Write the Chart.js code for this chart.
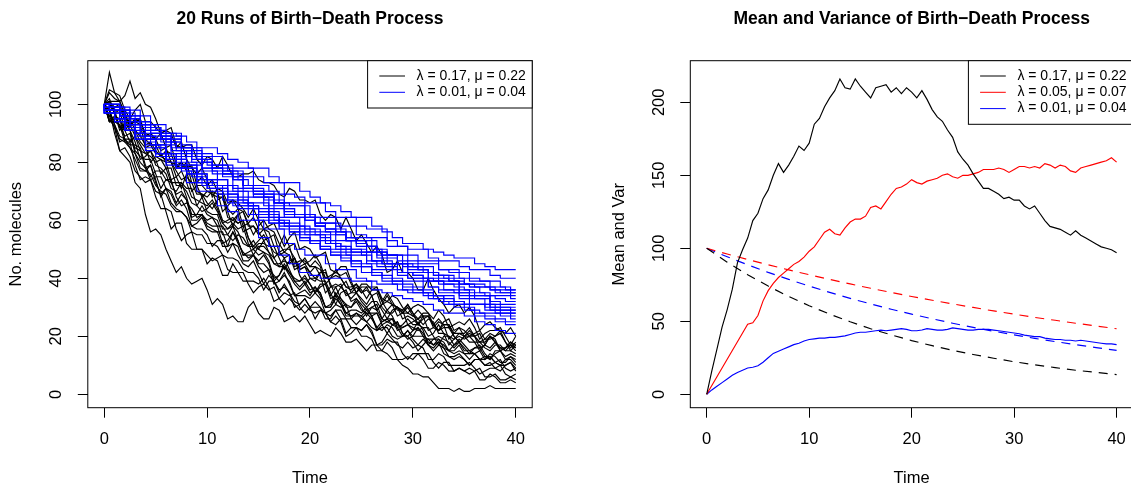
<!DOCTYPE html>
<html>
<head>
<meta charset="utf-8">
<script src="https://cdn.jsdelivr.net/npm/chart.js@4.4.1/dist/chart.umd.min.js"></script>
<style>
  html, body { margin: 0; padding: 0; background: #fff; overflow: hidden; }
  .panel { position: absolute; top: 0; width: 566px; height: 486px; }
  #left { left: 0; }
  #right { left: 600px; }
</style>
</head>
<body>
<div class="panel" id="left"><canvas id="runsChart" width="566" height="486"></canvas></div>
<div class="panel" id="right"><canvas id="momentsChart" width="566" height="486"></canvas></div>
<script>
// time grids: whole units and half units
const runTimes = [0,1,2,3,4,5,6,7,8,9,10,11,12,13,14,15,16,17,18,19,20,21,22,23,24,25,26,27,28,29,30,31,32,33,34,35,36,37,38,39,40];
const halfTimes = [0,0.5,1,1.5,2,2.5,3,3.5,4,4.5,5,5.5,6,6.5,7,7.5,8,8.5,9,9.5,10,10.5,11,11.5,12,12.5,13,13.5,14,14.5,15,15.5,16,16.5,17,17.5,18,18.5,19,19.5,20,20.5,21,21.5,22,22.5,23,23.5,24,24.5,25,25.5,26,26.5,27,27.5,28,28.5,29,29.5,30,30.5,31,31.5,32,32.5,33,33.5,34,34.5,35,35.5,36,36.5,37,37.5,38,38.5,39,39.5,40];

// lambda = 0.17, mu = 0.22 (half-unit samples)
const blackRuns = [
  [100,102,97,92,92,94,94,93,85,80,82,81,80,80,75,71,76,76,70,69,66,64,67,68,61,60,62,56,57,58,55,57,53,47,49,50,50,47,43,44,40,39,42,42,38,34,37,39,35,35,33,31,34,35,30,28,28,30,29,24,25,26,24,26,25,21,21,20,19,21,20,18,18,18,16,15,17,17,15,15,14],
  [100,94,94,93,89,90,83,80,78,79,74,68,71,70,66,69,67,60,60,62,58,57,56,51,51,56,53,48,48,48,46,48,45,39,41,45,42,39,37,39,36,37,35,30,31,35,32,28,29,29,28,30,27,23,25,26,24,25,21,19,20,23,21,18,17,19,18,15,15,17,14,14,14,12,12,13,11,10,10,11,9],
  [100,101,101,101,96,92,95,95,89,90,88,84,85,86,79,78,80,73,73,75,72,74,70,63,65,67,66,64,61,64,60,57,58,59,55,51,54,56,50,51,50,47,48,49,43,42,44,44,39,35,38,38,36,37,32,29,31,30,28,30,27,26,27,27,24,22,24,24,21,21,21,23,20,18,19,21,20,22,18,15,17],
  [100,96,92,88,87,87,79,74,75,74,70,69,63,57,59,59,52,50,50,50,45,47,46,41,41,45,42,39,39,39,38,40,37,32,33,35,34,35,30,28,30,32,30,28,27,29,29,26,26,28,26,25,23,22,23,23,20,19,20,20,18,15,17,19,17,18,14,13,13,14,12,10,12,12,10,11,9,8,10,11,8],
  [100,95,92,84,82,80,73,71,62,56,57,55,50,46,42,44,40,38,39,40,36,31,33,31,26,27,25,25,30,32,28,26,26,30,29,25,26,27,25,27,24,21,22,21,20,23,21,18,18,19,17,15,17,17,15,14,12,12,10,9,7,7,6,6,4,2,2,2,1,2,1,1,2,2,2,3,2,2,2,2,2],
  [100,100,98,92,91,93,89,84,83,82,80,81,78,73,73,73,71,71,65,63,64,66,63,59,57,58,56,52,51,53,50,49,48,45,44,44,42,40,39,40,38,35,38,38,34,37,33,31,30,33,30,27,30,29,26,29,27,23,24,26,24,24,23,20,21,24,21,17,19,20,19,20,18,15,17,20,18,16,16,18,16],
  [100,105,104,103,98,95,98,100,94,94,92,90,91,92,86,85,86,86,81,79,82,81,78,82,79,75,75,76,76,77,74,73,73,72,69,68,71,70,67,67,66,67,62,60,62,61,57,61,57,53,55,52,49,51,48,42,43,46,42,42,40,36,36,40,36,33,31,28,30,31,28,30,27,22,24,25,23,22,21,23,20],
  [100,94,95,95,91,91,84,82,81,81,76,71,74,73,69,70,67,61,62,65,62,61,60,55,55,58,53,48,49,50,48,49,46,40,41,44,41,38,36,38,35,36,35,30,30,34,31,27,27,27,27,29,27,22,24,25,24,25,21,20,22,23,20,19,19,19,16,15,17,18,15,15,14,12,13,13,11,10,12,12,10],
  [100,101,99,100,94,91,91,89,86,87,84,82,81,80,77,74,75,73,69,69,68,70,65,60,59,60,59,60,54,50,52,52,51,51,47,43,46,47,43,44,42,40,42,43,37,37,38,34,35,37,35,37,34,29,31,32,31,30,28,31,28,26,28,28,24,22,25,26,22,23,22,20,21,22,19,19,20,21,18,16,18],
  [100,98,93,89,88,85,81,77,77,76,72,70,69,65,63,63,61,58,57,57,55,51,53,53,49,52,48,45,44,46,42,38,41,39,36,37,35,30,31,33,30,30,30,26,26,29,26,21,23,23,22,24,22,17,18,21,19,17,16,18,16,17,16,12,12,14,13,10,10,10,10,11,9,7,8,9,9,10,7,6,7],
  [100,104,102,101,97,93,94,95,88,86,86,82,84,83,78,80,77,70,72,72,70,70,69,69,64,62,64,63,59,55,58,60,57,56,52,49,51,52,47,45,46,48,45,40,41,42,41,42,38,35,37,37,37,37,33,32,34,33,30,28,30,31,30,28,26,29,27,23,24,25,24,26,23,19,21,22,22,23,20,17,20],
  [100,94,96,95,91,91,87,81,82,84,79,78,76,71,70,73,68,62,62,62,60,61,58,52,53,56,52,49,47,48,45,45,43,38,39,42,38,34,34,34,33,35,33,28,29,31,30,31,26,24,26,28,26,23,22,24,23,20,20,22,20,20,20,17,16,18,17,15,14,15,14,12,14,15,12,14,13,11,11,13,11],
  [100,98,90,84,85,82,77,75,73,74,68,64,64,63,57,53,55,56,50,50,48,46,47,48,43,42,42,42,38,35,37,38,36,37,33,31,33,31,29,31,29,28,29,28,25,24,26,26,23,23,22,24,21,17,17,19,18,18,14,12,14,14,14,14,11,9,11,11,8,9,8,7,8,9,6,6,7,5,5,6,5],
  [100,101,97,91,93,95,91,87,85,86,83,83,80,74,75,77,73,68,67,66,65,67,64,59,60,61,59,60,54,51,53,55,52,49,48,49,48,44,45,47,44,44,43,40,40,41,40,37,37,38,36,33,36,36,32,35,32,29,29,31,28,24,27,27,24,26,24,19,21,23,20,20,20,16,17,20,18,15,16,17,16],
  [100,96,95,95,88,86,86,85,79,75,77,77,74,74,68,65,66,64,61,62,59,58,58,58,55,53,55,54,51,51,50,53,49,45,45,46,45,47,41,38,40,40,39,39,35,31,35,36,32,33,31,29,30,31,26,25,26,22,23,24,22,25,22,17,19,20,19,18,16,18,16,14,16,16,13,12,14,15,12,13,12],
  [100,98,93,87,88,88,85,84,78,74,75,75,71,66,64,63,61,56,55,55,52,52,51,48,47,47,46,43,42,42,40,36,39,39,35,38,35,32,31,33,30,26,29,28,25,27,25,20,21,23,20,20,19,15,15,18,16,12,12,13,12,14,12,9,9,11,10,8,8,9,8,9,8,5,5,7,6,4,4,5,4],
  [100,98,99,99,96,93,95,94,90,89,88,90,85,80,79,80,78,79,72,68,70,69,68,68,63,58,62,63,58,58,56,53,54,55,49,47,48,43,44,45,42,44,41,35,37,38,37,35,33,35,32,30,32,32,29,26,29,30,26,27,26,24,26,27,23,22,23,23,20,18,20,21,20,21,17,16,18,16,15,17,15],
  [100,111,104,101,103,108,102,104,100,99,95,90,91,90,85,87,81,78,76,78,74,68,71,70,66,67,64,58,59,61,57,57,56,51,51,55,51,45,46,46,44,46,44,38,40,43,40,37,36,38,35,36,34,29,31,34,31,27,28,28,27,29,27,22,23,25,24,24,20,18,20,22,20,18,18,20,19,15,16,18,17],
  [100,100,97,98,91,87,89,86,83,84,81,76,78,78,72,72,70,66,65,68,63,62,62,57,57,59,57,58,52,48,51,51,49,47,44,47,43,39,39,41,38,35,37,38,33,34,33,30,30,32,29,28,28,28,24,21,24,23,20,22,19,17,19,17,15,17,16,13,12,13,12,10,12,12,10,10,11,12,9,8,9],
  [100,94,94,93,87,85,83,78,77,79,73,69,71,69,65,67,64,58,59,61,57,56,56,56,51,52,51,46,46,48,44,42,43,41,39,41,39,34,35,36,34,37,34,30,30,33,31,28,27,28,27,25,27,28,25,26,26,24,23,24,23,22,23,23,20,17,20,20,17,19,17,15,16,17,14,12,15,15,13,14,13]
];

// lambda = 0.01, mu = 0.04 (whole-unit samples)
const blueRuns = [
  [100,99,97,97,94,93,93,90,89,87,85,85,83,81,80,78,78,75,73,73,70,68,66,65,63,61,61,58,56,54,52,52,50,49,48,47,47,45,44,43,43],
  [100,98,96,96,93,92,89,89,86,84,82,82,79,78,78,75,73,73,69,68,66,66,63,61,61,58,57,57,53,51,50,50,47,46,46,44,43,43,41,40,40],
  [100,97,95,95,90,88,88,83,81,80,76,74,74,70,68,66,66,62,60,59,57,57,54,53,53,50,49,49,46,45,44,44,42,41,41,39,38,38,37,37,36],
  [100,99,94,92,92,86,83,83,77,75,72,72,67,65,65,60,57,57,52,50,48,48,45,43,43,40,39,38,38,36,35,35,33,32,31,31,29,28,28,27,26],
  [100,98,95,91,91,84,82,79,79,73,70,70,65,63,60,60,54,51,48,45,42,41,40,40,40,39,39,36,35,34,33,32,31,29,28,28,27,25,24,22,21],
  [100,100,97,95,92,90,90,87,84,82,80,78,77,74,72,70,69,66,64,62,60,59,57,56,53,52,51,49,47,45,44,43,42,40,39,38,37,35,34,34,33],
  [100,98,97,93,93,89,86,86,84,79,77,77,74,72,70,68,68,63,61,61,58,56,56,52,51,49,49,46,45,45,42,41,39,39,36,35,35,33,31,30,30],
  [100,100,96,92,89,89,87,82,79,79,74,72,72,70,66,64,64,60,58,58,55,55,52,50,48,48,45,44,44,41,40,40,37,36,36,34,33,33,30,29,29],
  [100,99,99,95,93,93,91,87,85,85,81,79,79,77,74,72,72,70,66,65,65,61,59,59,56,54,54,50,48,48,45,44,44,41,40,40,38,37,37,35,35],
  [100,98,98,98,90,88,88,84,82,82,78,76,76,76,71,69,67,67,63,62,62,58,56,56,53,51,51,47,45,45,42,42,39,38,38,35,34,34,32,31,31],
  [100,97,97,91,88,88,85,80,78,78,73,71,71,67,65,65,61,59,59,55,53,53,50,49,49,46,45,43,43,40,39,39,36,34,34,32,31,31,29,28,28],
  [100,100,96,94,94,90,88,88,83,81,81,77,75,75,70,68,68,64,61,61,57,55,55,51,50,50,46,45,45,42,40,40,37,35,35,33,31,31,29,28,27],
  [100,97,95,92,90,87,85,82,80,77,75,73,71,69,67,65,63,61,59,58,56,55,53,52,50,49,48,46,45,43,42,41,40,39,38,37,36,35,34,33,32],
  [100,100,98,93,91,91,89,85,85,80,78,78,76,71,71,69,65,65,62,61,61,58,57,57,54,53,53,50,48,48,46,45,45,43,42,42,40,39,39,37,36],
  [100,97,94,91,89,86,83,81,78,76,73,71,69,66,64,62,60,59,57,56,54,52,50,48,47,45,44,42,41,39,38,37,35,34,32,31,30,28,27,26,25],
  [100,99,99,96,96,92,90,90,85,85,80,78,78,75,75,71,69,69,66,66,62,61,61,58,58,55,54,54,51,51,48,46,46,43,43,40,39,39,36,36,34],
  [100,98,95,93,90,88,86,83,81,78,76,74,72,69,67,65,63,61,59,57,55,53,51,50,48,46,44,42,40,39,37,36,35,34,33,32,31,31,30,29,29],
  [100,98,98,94,94,90,88,88,85,83,83,79,77,77,72,70,70,66,65,65,61,59,59,55,53,53,49,48,48,45,43,43,40,39,39,36,34,34,31,30,28],
  [100,97,94,91,88,85,83,81,78,76,74,72,70,68,66,64,62,60,58,56,54,52,50,48,46,44,42,41,39,38,36,35,34,33,31,30,29,27,26,25,24],
  [100,98,96,95,93,91,89,87,84,82,80,78,76,74,72,70,68,66,64,62,60,58,57,55,54,52,51,49,48,46,45,43,42,41,39,38,37,37,36,35,35]
];

// mean curves, every 2 time units
const meanTimes = [0,2,4,6,8,10,12,14,16,18,20,22,24,26,28,30,32,34,36,38,40];
const meanFast = [100,90.5,81.9,74.1,67.0,60.7,54.9,49.7,44.9,40.7,36.8,33.3,30.1,27.3,24.7,22.3,20.2,18.3,16.5,15.0,13.5];
const meanMid = [100,96.1,92.3,88.7,85.2,81.9,78.7,75.6,72.6,69.8,67.0,64.4,61.9,59.5,57.1,54.9,52.7,50.7,48.7,46.8,44.9];
const meanSlow = [100,94.2,88.7,83.5,78.7,74.1,69.8,65.7,61.9,58.3,54.9,51.7,48.7,45.8,43.2,40.7,38.3,36.1,34.0,32.0,30.1];

// sample variances on the half-unit grid
const varFast = [0,16,31,46,58,72,90,99,107,119,124,134,140,150,158,152,157,163,170,167,172,185,189,197,203,208,216,210,209,216,211,207,203,210,211,212,207,210,206,210,207,203,208,202,195,190,187,181,176,166,161,157,151,146,141,141,139,137,134,135,133,133,129,127,129,124,119,115,114,113,111,109,112,109,107,105,103,101,100,99,97];
const varMid = [0,6,12,18,24,30,36,42,48,49,54,64,71,76,80,83,86,89,91,94,98,101,106,111,113,110,109,114,118,120,120,122,128,129,127,132,137,141,142,144,147,145,144,146,147,148,150,151,149,148,150,150,151,152,154,154,154,155,154,152,154,156,156,155,156,155,158,157,155,157,156,153,152,155,156,157,158,159,160,162,159];
const varSlow = [0,3,5.5,8,10.5,13,15,16.5,18,18.5,19.5,22,25,28,29.5,31,32.5,34,35,36.5,37.5,38,38.5,38.5,39,39,39.5,40,41,42,42.5,42.5,43,43.5,44,43.5,44,44.5,45,44.5,43.5,43.5,44,45,44.5,44,44,44.5,45.5,45,44.5,44,44,44.5,44.5,44.5,44,43.5,43,42.5,42,41.5,40.5,40,39.5,39.5,38.5,38,37.5,37.5,37,37,36.5,37,36.5,36,35.5,35,34.5,34.5,34];

const xTicks = [0,10,20,30,40];
const runTicks = [0,20,40,60,80,100];
const momentTicks = [0,50,100,150,200];

const labelFast = "λ = 0.17, μ = 0.22";
const labelMid = "λ = 0.05, μ = 0.07";
const labelSlow = "λ = 0.01, μ = 0.04";

const colFast = "#000000";
const colMid = "#ff0000";
const colSlow = "#0000ff";
const FONT = '"Liberation Sans", Arial, Helvetica, sans-serif';

function lineSet(times, values, color, extra) {
  return Object.assign({
    data: times.map((t, i) => ({ x: t, y: values[i] })),
    borderColor: color,
    borderWidth: 1.15,
    pointRadius: 0,
    fill: false,
    tension: 0
  }, extra || {});
}

function axisX() {
  return {
    type: "linear", min: -1.6, max: 41.6,
    afterBuildTicks: s => { s.ticks = xTicks.map(v => ({ value: v })); },
    afterFit: s => { s.height = 78.3; },
    ticks: { display: false },
    grid: { drawOnChartArea: false, tickLength: 10, color: "#000", lineWidth: 1 },
    border: { display: false }
  };
}

function axisY(min, max, ticks, width) {
  return {
    type: "linear", min: min, max: max,
    afterBuildTicks: s => { s.ticks = ticks.map(v => ({ value: v })); },
    afterFit: s => { s.width = width; },
    ticks: { display: false },
    grid: { drawOnChartArea: false, tickLength: 10, color: "#000", lineWidth: 1 },
    border: { display: false }
  };
}

// box, tick labels, titles and legend in the style of base R graphics
function framePlugin(cfg) {
  return {
    id: "rFrame",
    afterDraw(chart) {
      const ctx = chart.ctx, a = chart.chartArea;
      const xs = chart.scales.x, ys = chart.scales.y;
      const midX = (a.left + a.right) / 2;
      ctx.save();
      ctx.strokeStyle = "#000";
      ctx.lineWidth = 1;
      ctx.strokeRect(a.left, a.top, a.right - a.left, a.bottom - a.top);

      ctx.fillStyle = "#000";
      ctx.textAlign = "center";
      ctx.textBaseline = "middle";
      ctx.font = "16.5px " + FONT;
      xTicks.forEach(v => ctx.fillText(String(v), xs.getPixelForValue(v), 439));
      cfg.yTicks.forEach(v => {
        ctx.save();
        ctx.translate(a.left - 31, ys.getPixelForValue(v));
        ctx.rotate(-Math.PI / 2);
        ctx.fillText(String(v), 0, 0);
        ctx.restore();
      });

      ctx.fillText("Time", midX, 478);
      ctx.save();
      ctx.translate(a.left - 71, (a.top + a.bottom) / 2);
      ctx.rotate(-Math.PI / 2);
      ctx.fillText(cfg.yTitle, 0, 0);
      ctx.restore();

      ctx.font = "bold 17.5px " + FONT;
      ctx.fillText(cfg.title, midX, 19);

      // legend, top right corner of the plot
      const rows = cfg.legend.length;
      const lw = 164.6, lh = rows * 16.3 + 14.7;
      const lx = a.right - lw, ly = a.top;
      ctx.fillStyle = "#fff";
      ctx.fillRect(lx, ly, lw, lh);
      ctx.strokeRect(lx, ly, lw, lh);
      ctx.font = "14px " + FONT;
      ctx.textAlign = "left";
      cfg.legend.forEach((item, i) => {
        const y = ly + 15.3 + i * 16.3;
        ctx.strokeStyle = item.color;
        ctx.beginPath();
        ctx.moveTo(lx + 11.7, y);
        ctx.lineTo(lx + 37.4, y);
        ctx.stroke();
        ctx.fillStyle = "#000";
        ctx.fillText(item.text, lx + 49, y);
      });
      ctx.restore();
    }
  };
}

function makeChart(id, datasets, yAxis, padRight, plugin) {
  return new Chart(document.getElementById(id), {
    type: "line",
    data: { datasets },
    options: {
      responsive: false,
      animation: false,
      events: [],
      layout: { padding: { left: 0, right: padRight, top: 60.7, bottom: 0 } },
      plugins: { legend: { display: false }, tooltip: { enabled: false } },
      scales: { x: axisX(), y: yAxis }
    },
    plugins: [plugin]
  });
}

// left panel: 20 runs for each parameter set, blue drawn on top
const runSets = [];
blackRuns.forEach(run => runSets.push(lineSet(halfTimes, run, colFast, { order: 1 })));
blueRuns.forEach((run, i) => runSets.push(lineSet(runTimes, run, colSlow, { order: 0, stepped: i % 2 ? "middle" : "after" })));

makeChart("runsChart", runSets, axisY(-4.62, 115.03, runTicks, 87.8), 33.8, framePlugin({
  title: "20 Runs of Birth\u2212Death Process",
  yTitle: "No. molecules",
  yTicks: runTicks,
  legend: [{ text: labelFast, color: colFast }, { text: labelSlow, color: colSlow }]
}));

// right panel: variance solid, mean dashed
const dash = [9, 7];
const momentSets = [
  lineSet(halfTimes, varFast, colFast),
  lineSet(halfTimes, varMid, colMid),
  lineSet(halfTimes, varSlow, colSlow),
  lineSet(meanTimes, meanFast, colFast, { borderDash: dash }),
  lineSet(meanTimes, meanMid, colMid, { borderDash: dash }),
  lineSet(meanTimes, meanSlow, colSlow, { borderDash: dash })
];

makeChart("momentsChart", momentSets, axisY(-9.18, 228.5, momentTicks, 90.3), 33, framePlugin({
  title: "Mean and Variance of Birth\u2212Death Process",
  yTitle: "Mean and Var",
  yTicks: momentTicks,
  legend: [{ text: labelFast, color: colFast }, { text: labelMid, color: colMid }, { text: labelSlow, color: colSlow }]
}));
</script>
</body>
</html>
